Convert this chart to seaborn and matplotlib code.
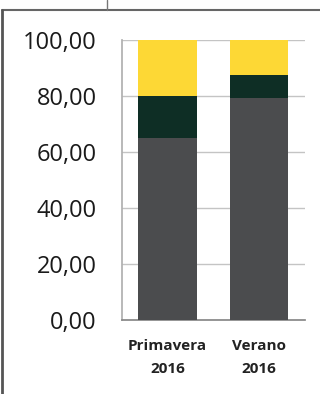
import matplotlib
matplotlib.use("Agg")
import matplotlib.pyplot as plt
import seaborn as sns
import pandas as pd
from matplotlib.lines import Line2D

seasons = ["Primavera\n2016", "Verano\n2016"]
gris = [65.0, 79.5]
verde = [15.0, 8.0]
amarillo = [20.0, 12.5]
yticks = [0, 20, 40, 60, 80, 100]

df = pd.DataFrame({"season": seasons, "gris": gris, "verde": verde, "amarillo": amarillo})
df["c1"] = df["gris"]
df["c2"] = df["c1"] + df["verde"]
df["c3"] = df["c2"] + df["amarillo"]

sns.set_theme(style="white")
plt.rcParams["font.family"] = ["Open Sans", "DejaVu Sans"]

fig = plt.figure(figsize=(3.2, 3.94), dpi=100)
ax = fig.add_axes([0.381, 0.188, 0.572, 0.71])

for col, color in [("c3", "#FDD835"), ("c2", "#0E2E25"), ("c1", "#4B4C4E")]:
    sns.barplot(data=df, x="season", y=col, color=color, width=0.64,
                saturation=1, linewidth=0, ax=ax, zorder=3)

ax.set_xlim(-0.5, 1.5)
ax.set_ylim(0, 100)
ax.set_yticks(yticks)
ax.set_yticklabels([f"{v:.2f}".replace(".", ",") for v in yticks],
                   fontsize=17, color="#1a1a1a", fontweight="medium")
ax.set_xlabel("")
ax.set_ylabel("")
for lbl in ax.get_xticklabels():
    lbl.set_fontsize(11)
    lbl.set_fontweight("bold")
    lbl.set_color("#222222")
    lbl.set_linespacing(1.75)
ax.tick_params(axis="y", length=0, pad=18)
ax.tick_params(axis="x", length=0, pad=14)
ax.grid(axis="y", color="#c4c4c4", linewidth=1, zorder=0)
for s in ["top", "right"]:
    ax.spines[s].set_visible(False)
ax.spines["left"].set_color("#b0b0b0")
ax.spines["bottom"].set_color("#888888")

# marco exterior
fig.add_artist(Line2D([0.006, 1.0], [0.975, 0.975], color="#666666", lw=1.5))
fig.add_artist(Line2D([0.006, 0.006], [0.0, 0.975], color="#555555", lw=2))
fig.add_artist(Line2D([0.334, 0.334], [0.975, 1.0], color="#777777", lw=1))

fig.savefig("out.png", dpi=100)
